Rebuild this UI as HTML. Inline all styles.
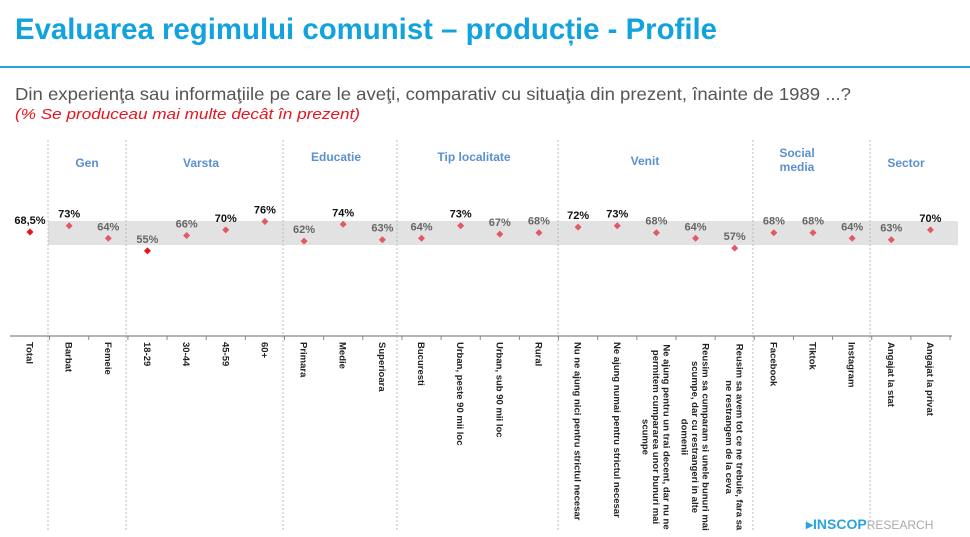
<!DOCTYPE html>
<html><head><meta charset="utf-8"><style>
html,body{margin:0;padding:0;background:#fff;}
svg{display:block;font-family:"Liberation Sans",Arial,sans-serif;}
</style></head><body>
<svg width="970" height="537" viewBox="0 0 970 537" xmlns="http://www.w3.org/2000/svg">
<text x="15" y="39" font-size="30" font-weight="bold" fill="#12a3df" textLength="702" lengthAdjust="spacingAndGlyphs">Evaluarea regimului comunist – producție - Profile</text>
<rect x="0" y="66" width="970" height="2" fill="#2aa4dc"/>
<text x="15" y="100" font-size="17.5" fill="#555" textLength="836" lengthAdjust="spacingAndGlyphs">Din experienţa sau informaţiile pe care le aveţi, comparativ cu situaţia din prezent, înainte de 1989 ...?</text>
<text x="15" y="119" font-size="15" font-style="italic" fill="#e8141c" textLength="345" lengthAdjust="spacingAndGlyphs">(% Se produceau mai multe decât în prezent)</text>
<rect x="48" y="221" width="910" height="24" fill="#e2e2e2"/>
<g stroke="#bbb" stroke-width="1" stroke-dasharray="2,2">
<line x1="48" y1="140" x2="48" y2="530"/><line x1="126" y1="140" x2="126" y2="530"/>
<line x1="283" y1="140" x2="283" y2="530"/><line x1="397" y1="140" x2="397" y2="530"/>
<line x1="558" y1="140" x2="558" y2="530"/><line x1="753" y1="140" x2="753" y2="530"/>
<line x1="870" y1="140" x2="870" y2="530"/>
</g>
<g font-size="12" font-weight="bold" fill="#5b8fd0" text-anchor="middle">
<text x="87" y="167">Gen</text><text x="201" y="167">Varsta</text>
<text x="336" y="161">Educatie</text><text x="474" y="161">Tip localitate</text>
<text x="645" y="165">Venit</text><text x="797" y="157">Social</text><text x="797" y="171">media</text>
<text x="906" y="167">Sector</text>
</g>
<line x1="10" y1="336" x2="952" y2="336" stroke="#888" stroke-width="1.2"/>
<g id="pts"></g>
<g font-size="9.5" font-weight="bold" fill="#222" id="cats"></g>
<text x="806" y="529" font-size="14" font-weight="bold" fill="#2aa4dc">▸INSCOP<tspan font-weight="normal" fill="#aaa" font-size="12">RESEARCH</tspan></text>
<script>
var d=[["Total",68.5],["Barbat",73],["Femeie",64],["18-29",55],["30-44",66],["45-59",70],["60+",76],["Primara",62],["Medie",74],["Superioara",63],["Bucuresti",64],["Urban, peste 90 mii loc",73],["Urban, sub 90 mii loc",67],["Rural",68],["Nu ne ajung nici pentru strictul necesar",72],["Ne ajung numai pentru strictul necesar",73],["Ne ajung pentru un trai decent, dar nu ne|permitem cumpararea unor bunuri mai|scumpe",68],["Reusim sa cumparam si unele bunuri mai|scumpe, dar cu restrangeri in alte|domenii",64],["Reusim sa avem tot ce ne trebuie, fara sa|ne restrangem de la ceva",57],["Facebook",68],["Tiktok",68],["Instagram",64],["Angajat la stat",63],["Angajat la privat",70]];
var ns="http://www.w3.org/2000/svg",P=document.getElementById("pts"),C=document.getElementById("cats");
function el(t,a,txt,par){var e=document.createElementNS(ns,t);for(var k in a)e.setAttribute(k,a[k]);if(txt)e.textContent=txt;par.appendChild(e);return e;}
d.forEach(function(r,i){
 var x=30+i*39.15,v=r[1],y=232-(v-68.5)*1.4;
 var hi=(i==0||v==55);
 el("path",{d:"M"+x+" "+(y-3.5)+"L"+(x+3.5)+" "+y+"L"+x+" "+(y+3.5)+"L"+(x-3.5)+" "+y+"Z",fill:hi?"#e8141c":"#e05a64"},null,P);
 var lab=(i==0?"68,5":v)+"%";
 el("text",{x:x,y:y-8,"font-size":"11","font-weight":"bold","text-anchor":"middle",fill:(v>68.5)?"#111":(i==0?"#111":"#666")},lab,P);
 el("line",{x1:x+19.6,y1:336,x2:x+19.6,y2:340,stroke:"#888"},null,P);
 var lines=r[0].split("|"),n=lines.length;
 lines.forEach(function(l,j){
  var lx=x+(j-(n-1)/2)*-10.5;
  var t=el("text",{transform:"translate("+(lx-3.5)+",342) rotate(90)","text-anchor":n>1?"middle":"start"},l,C);
  if(n>1){t.setAttribute("x","95");}
 });
});
</script>
</svg>
</body></html>
